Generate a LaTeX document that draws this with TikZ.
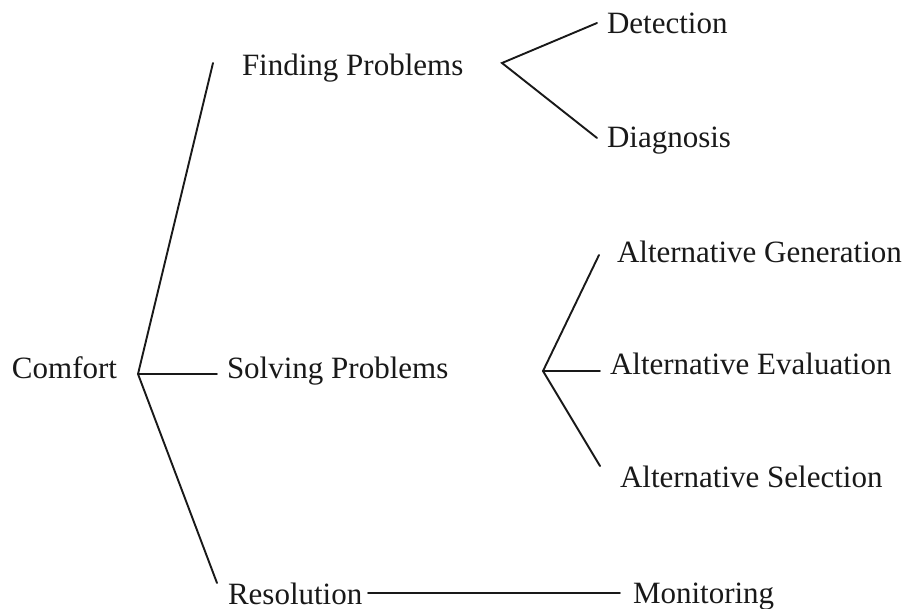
\documentclass[tikz,border=0pt]{standalone}
\usepackage{fontspec}
\setmainfont{Liberation Serif}
\begin{document}
\begin{tikzpicture}[x=1pt,y=-1pt,
  lbl/.style={anchor=base west,inner sep=0pt,outer sep=0pt,text=black!90,
    font=\fontsize{31}{37}\selectfont},
  conn/.style={draw=black!90,line width=1.9pt,line cap=round,line join=miter}]
\useasboundingbox[fill=white] (0,0) rectangle (909,608);
% labels
\node[lbl] (comfort) at (12,378) {Comfort};
\node[lbl] (finding) at (242,75) {Finding Problems};
\node[lbl] (solving) at (227,378) {Solving Problems};
\node[lbl] (resolution) at (228,604) {Resolution};
\node[lbl] (detection) at (607,33) {Detection};
\node[lbl] (diagnosis) at (607,147) {Diagnosis};
\node[lbl] (altgen) at (617,262) {Alternative Generation};
\node[lbl] (alteval) at (610,374) {Alternative Evaluation};
\node[lbl] (altsel) at (620,487) {Alternative Selection};
\node[lbl] (monitoring) at (633,603) {Monitoring};
% branch points and line ends
\coordinate (cv) at (138,374);
\coordinate (cF) at (213,63);
\coordinate (cS) at (217,374);
\coordinate (cR) at (217,583);
\coordinate (fv) at (502,63);
\coordinate (fDe) at (597,23);
\coordinate (fDi) at (597,138);
\coordinate (sv) at (543,371);
\coordinate (sG) at (599,255);
\coordinate (sE) at (600,371);
\coordinate (sS) at (600,466);
\coordinate (rA) at (368,593);
\coordinate (rB) at (620,593);
% connectors
\draw[conn] (cF) -- (cv) -- (cR);
\draw[conn] (cv) -- (cS);
\draw[conn] (fDe) -- (fv) -- (fDi);
\draw[conn] (sG) -- (sv) -- (sS);
\draw[conn] (sv) -- (sE);
\draw[conn] (rA) -- (rB);
\end{tikzpicture}
\end{document}
